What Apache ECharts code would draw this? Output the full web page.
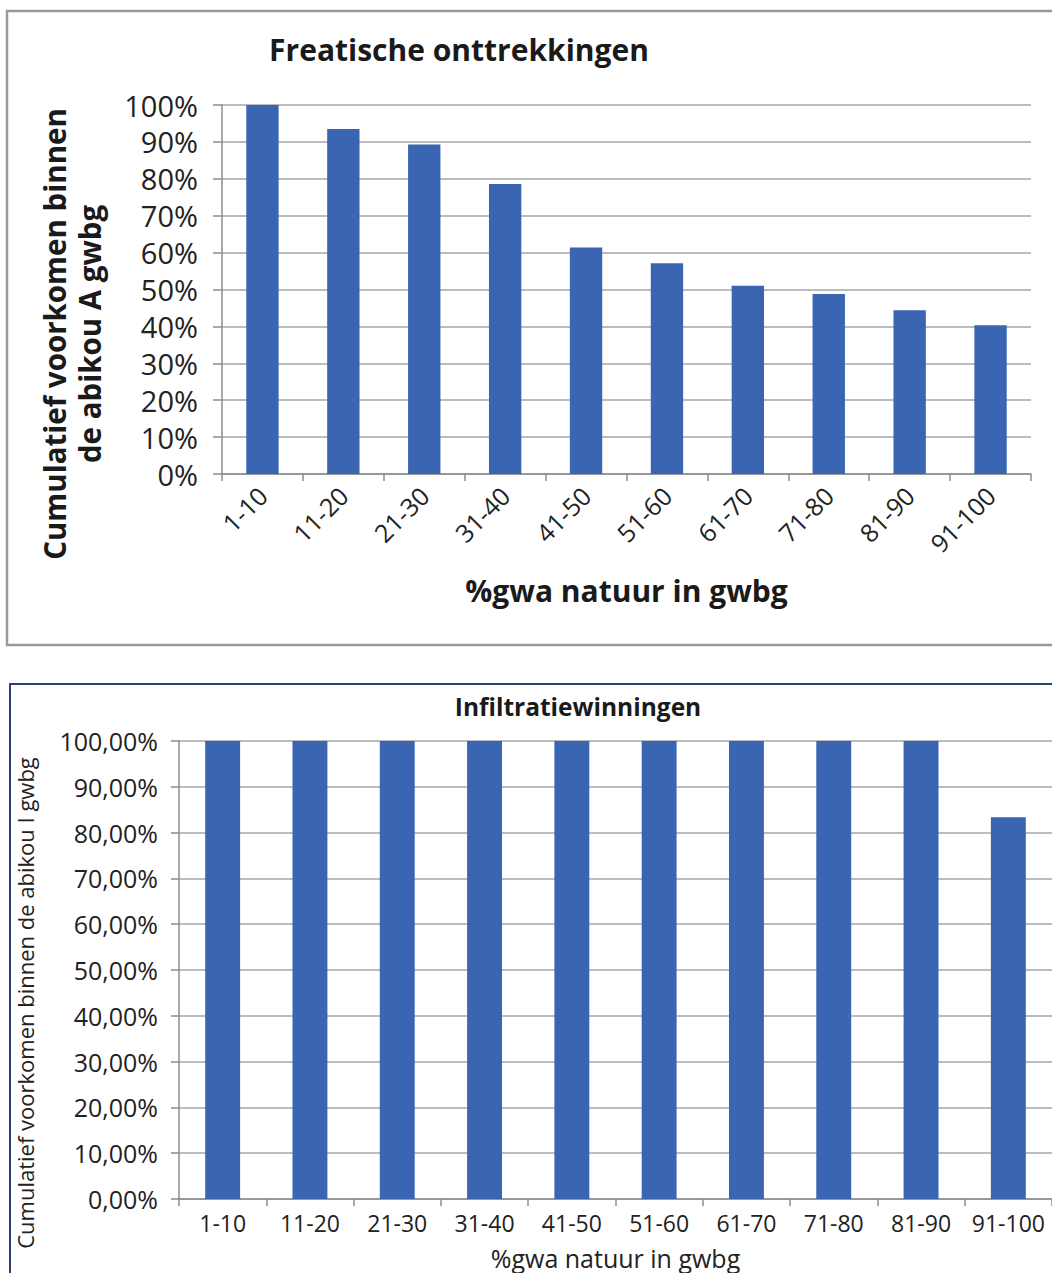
<!DOCTYPE html>
<html>
<head>
<meta charset="utf-8">
<title>Cumulatief voorkomen per klasse %gwa natuur</title>
<script src="https://cdn.jsdelivr.net/npm/echarts@6/dist/echarts.min.js"></script>
<style>
  html, body { margin: 0; padding: 0; background: #ffffff; }
  #chart { width: 1052px; height: 1273px; }
</style>
</head>
<body>
<div id="chart"></div>
<script>
// Klassen van het percentage grondwaterafhankelijke natuur in het grondwaterlichaam
const categories = ['1-10', '11-20', '21-30', '31-40', '41-50', '51-60', '61-70', '71-80', '81-90', '91-100'];

// Cumulatief voorkomen (%) binnen abikou A – freatische onttrekkingen
const freatischeValues = [100, 93.5, 89.3, 78.6, 61.4, 57.1, 51.0, 48.8, 44.4, 40.3];

// Cumulatief voorkomen (%) binnen abikou I – infiltratiewinningen
const infiltratieValues = [100, 100, 100, 100, 100, 100, 100, 100, 100, 83.33];

const topTitle = 'Freatische onttrekkingen';
const bottomTitle = 'Infiltratiewinningen';
const topYName = 'Cumulatief voorkomen binnen\nde abikou A gwbg';
const bottomYName = 'Cumulatief voorkomen binnen de abikou I gwbg';
const xName = '%gwa natuur in gwbg';

const FONT = '"Open Sans", "Noto Sans", sans-serif';
const BAR = '#3a65b2';
const AXIS = '#8c8c8c';
const GRID = '#a6a6a6';

const chart = echarts.init(document.getElementById('chart'), null, { renderer: 'svg' });

chart.setOption({
  animation: false,
  textStyle: { fontFamily: FONT },
  grid: [
    { left: 222, top: 105, width: 809, height: 369, containLabel: false },
    { left: 179, top: 741, width: 874, height: 458, containLabel: false }
  ],
  xAxis: [
    {
      gridIndex: 0,
      type: 'category',
      data: categories,
      name: xName,
      nameLocation: 'middle',
      nameGap: 101,
      nameTextStyle: { fontFamily: FONT, fontSize: 30, fontWeight: 'bold', color: '#1a1a1a' },
      axisLine: { lineStyle: { color: AXIS, width: 1.5 } },
      axisTick: { show: true, interval: 0, length: 7, lineStyle: { color: AXIS, width: 1.5 } },
      axisLabel: { interval: 0, rotate: 45, margin: 17, fontFamily: FONT, fontSize: 25, color: '#222' }
    },
    {
      gridIndex: 1,
      type: 'category',
      data: categories,
      name: xName,
      nameLocation: 'middle',
      nameGap: 46,
      nameTextStyle: { fontFamily: FONT, fontSize: 25, color: '#222' },
      axisLine: { lineStyle: { color: AXIS, width: 1.5 } },
      axisTick: { show: true, interval: 0, length: 7, lineStyle: { color: AXIS, width: 1.5 } },
      axisLabel: { interval: 0, hideOverlap: false, margin: 12, fontFamily: FONT, fontSize: 23, color: '#222' }
    }
  ],
  yAxis: [
    {
      gridIndex: 0,
      type: 'value',
      min: 0, max: 100, interval: 10,
      axisLine: { show: true, lineStyle: { color: AXIS, width: 1.5 } },
      axisTick: { show: true, length: 9, lineStyle: { color: AXIS, width: 1.5 } },
      splitLine: { lineStyle: { color: GRID, width: 1.5 } },
      axisLabel: {
        margin: 24, fontFamily: FONT, fontSize: 29, color: '#222',
        formatter: v => v + '%'
      }
    },
    {
      gridIndex: 1,
      type: 'value',
      min: 0, max: 100, interval: 10,
      axisLine: { show: true, lineStyle: { color: AXIS, width: 1.5 } },
      axisTick: { show: true, length: 8, lineStyle: { color: AXIS, width: 1.5 } },
      splitLine: { lineStyle: { color: GRID, width: 1.5 } },
      axisLabel: {
        margin: 21, fontFamily: FONT, fontSize: 25, color: '#222',
        formatter: v => v.toFixed(2).replace('.', ',') + '%'
      }
    }
  ],
  series: [
    {
      type: 'bar',
      xAxisIndex: 0, yAxisIndex: 0,
      data: freatischeValues,
      barWidth: '40%',
      itemStyle: { color: BAR }
    },
    {
      type: 'bar',
      xAxisIndex: 1, yAxisIndex: 1,
      data: infiltratieValues,
      barWidth: '40%',
      itemStyle: { color: BAR }
    }
  ],
  graphic: [
    // kader rond de bovenste grafiek
    {
      type: 'rect', silent: true, z: -1,
      shape: { x: 7, y: 11, width: 1070, height: 634 },
      style: { fill: 'none', stroke: '#9a9a9a', lineWidth: 2.5 }
    },
    // kader rond de onderste grafiek
    {
      type: 'rect', silent: true, z: -1,
      shape: { x: 10, y: 684, width: 1070, height: 620 },
      style: { fill: 'none', stroke: '#2c3f6e', lineWidth: 2 }
    },
    {
      type: 'text', x: 459, y: 49,
      style: {
        text: topTitle, fill: '#1a1a1a',
        font: 'bold 30px ' + FONT,
        textAlign: 'center', textVerticalAlign: 'middle', align: 'center', verticalAlign: 'middle'
      }
    },
    {
      type: 'text', x: 578, y: 706,
      style: {
        text: bottomTitle, fill: '#1a1a1a',
        font: 'bold 24.5px ' + FONT,
        textAlign: 'center', textVerticalAlign: 'middle', align: 'center', verticalAlign: 'middle'
      }
    },
    {
      type: 'text', x: 72, y: 334, rotation: Math.PI / 2,
      style: {
        text: topYName, fill: '#1a1a1a',
        font: 'bold 29.5px ' + FONT, lineHeight: 35,
        textAlign: 'center', textVerticalAlign: 'middle', align: 'center', verticalAlign: 'middle'
      }
    },
    {
      type: 'text', x: 25, y: 1003, rotation: Math.PI / 2,
      style: {
        text: bottomYName, fill: '#222',
        font: '22px ' + FONT,
        textAlign: 'center', textVerticalAlign: 'middle', align: 'center', verticalAlign: 'middle'
      }
    }
  ]
});
</script>
</body>
</html>
